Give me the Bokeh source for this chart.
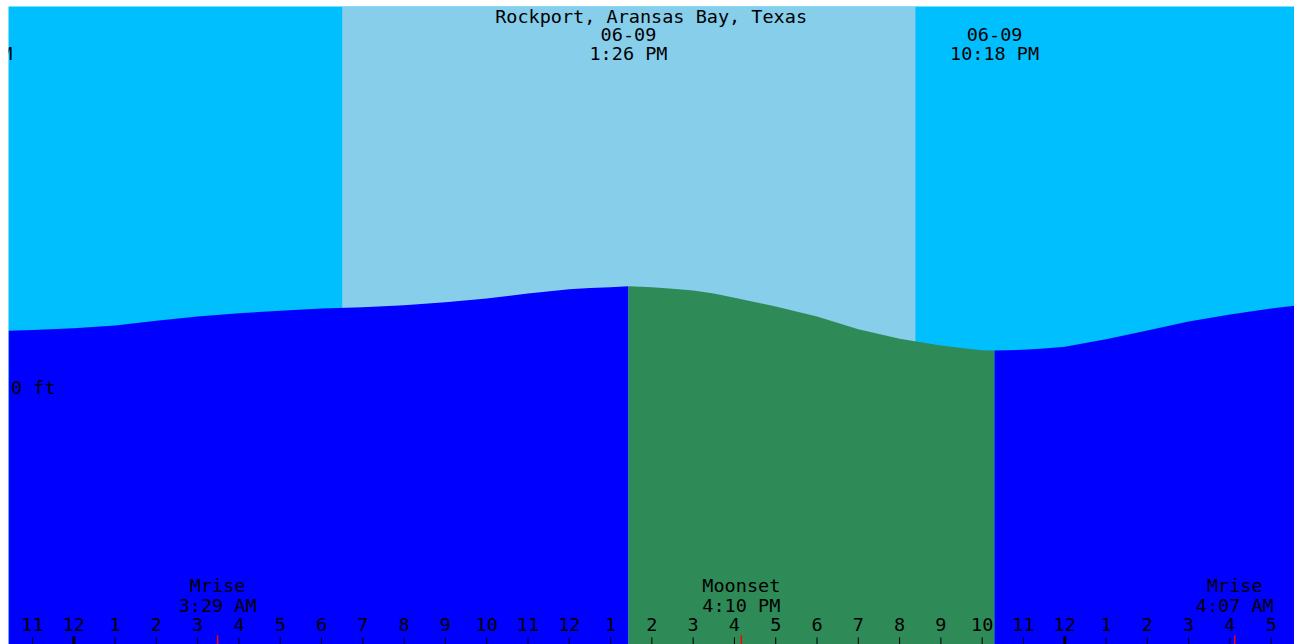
from bokeh.plotting import figure
from bokeh.models import Range1d, BoxAnnotation
from bokeh.embed import file_html
from bokeh.resources import INLINE
from bokeh.core.properties import value

# ---------------- data (hours after midnight, 2025-06-09 local) ----------------
station = "Rockport, Aransas Bay, Texas"

high_hour = 13 + 26 / 60      # 06-09 1:26 PM
low_hour = 22 + 18 / 60       # 06-09 10:18 PM
prev_event_hour = -(2 + 26 / 60)  # 06-08 9:34 PM (off the left edge)

tide_hours = [-1.58, -1, 0, 1, 2, 3, 4, 5, 6, 7, 8, 9, 10, 11, 12, 12.5, 13, high_hour,
              14, 14.5, 15, 15.5, 16, 17, 18, 19, 20, 21, 21.5, 22, low_hour,
              23, 23.5, 24, 25, 26, 27, 28, 29, 29.57]
tide_ft = [0.142, 0.144, 0.148, 0.155, 0.166, 0.176, 0.184, 0.190, 0.195, 0.198, 0.203,
           0.210, 0.219, 0.231, 0.241, 0.244, 0.246, 0.248,
           0.246, 0.242, 0.238, 0.231, 0.221, 0.200, 0.176, 0.146, 0.123, 0.107, 0.101,
           0.096, 0.095, 0.097, 0.100, 0.104, 0.122, 0.143, 0.164, 0.181, 0.195, 0.202]

event_labels = [("06-08", "9:34 PM", prev_event_hour),
                ("06-09", "1:26 PM", high_hour),
                ("06-09", "10:18 PM", low_hour)]

sunrise_hour = 6.5
sunset_hour = 20 + 23 / 60

moon_events = [("Mrise", "3:29 AM", 3 + 29 / 60),
               ("Moonset", "4:10 PM", 16 + 10 / 60),
               ("Mrise", "4:07 AM", 24 + 4 + 7 / 60)]

hour_ticks = list(range(-1, 30))
hour_labels = [str((h - 1) % 12 + 1) for h in hour_ticks]
midnights = [0, 24]

# ---------------- styling ----------------
X_START, X_END = -1.5815, 29.564
Y_BOT, Y_TOP = -0.6048, 0.9143
NIGHT = "#00BFFF"
DAY = "#87CEEB"
FLOOD = "#0000FF"
EBB = "#2E8B57"
FONT = value("DejaVu Sans Mono")
FS = "18.5px"

p = figure(width=1286, height=638, output_backend="svg", toolbar_location=None,
           x_range=Range1d(X_START, X_END), y_range=Range1d(Y_BOT, Y_TOP),
           min_border=0, background_fill_color=NIGHT, border_fill_color=NIGHT,
           margin=(6, 0, 0, 8))
p.axis.visible = False
p.grid.visible = False
p.outline_line_color = None

p.add_layout(BoxAnnotation(left=sunrise_hour, right=sunset_hour, fill_color=DAY,
                           fill_alpha=1, line_color=None, level="underlay"))

# water, split into flood / ebb segments
i_hi = tide_hours.index(high_hour)
i_lo = tide_hours.index(low_hour)
for (a, b, col) in [(0, i_hi + 1, FLOOD), (i_hi, i_lo + 1, EBB), (i_lo, len(tide_hours), FLOOD)]:
    xs, ys = tide_hours[a:b], tide_ft[a:b]
    p.varea(x=xs, y1=[Y_BOT] * len(xs), y2=ys, fill_color=col, fill_alpha=1)

# hour ticks
TICK_TOP = -0.588
p.segment(x0=hour_ticks, y0=[Y_BOT] * len(hour_ticks), x1=hour_ticks,
          y1=[TICK_TOP] * len(hour_ticks), line_color="black", line_width=1)
p.segment(x0=midnights, y0=[Y_BOT] * 2, x1=midnights, y1=[TICK_TOP + 0.003] * 2,
          line_color="black", line_width=3)
mh = [m[2] for m in moon_events]
p.segment(x0=mh, y0=[Y_BOT] * 3, x1=mh, y1=[TICK_TOP + 0.005] * 3,
          line_color="#FF0000", line_width=1.5)

txt = dict(text_font=FONT, text_font_size=FS, text_align="center",
           text_baseline="alphabetic", text_color="black")

p.text(x=hour_ticks, y=[-0.5583] * len(hour_ticks), text=hour_labels, **txt)
p.text(x=mh, y=[-0.4654] * 3, text=[m[0] for m in moon_events], **txt)
p.text(x=mh, y=[-0.5131] * 3, text=[m[1] for m in moon_events], **txt)

p.text(x=[(X_START + X_END) / 2 - 0.01], y=[0.8905], text=[station], **txt)
eh = [e[2] for e in event_labels]
p.text(x=eh, y=[0.8477] * 3, text=[e[0] for e in event_labels], **txt)
p.text(x=eh, y=[0.8024] * 3, text=[e[1] for e in event_labels], **txt)

p.text(x=[X_START + 0.06], y=[0.0060], text=["0 ft"], text_font=FONT, text_font_size=FS,
       text_align="left", text_baseline="alphabetic", text_color="black")

open("out.html", "w").write(file_html(p, INLINE))
